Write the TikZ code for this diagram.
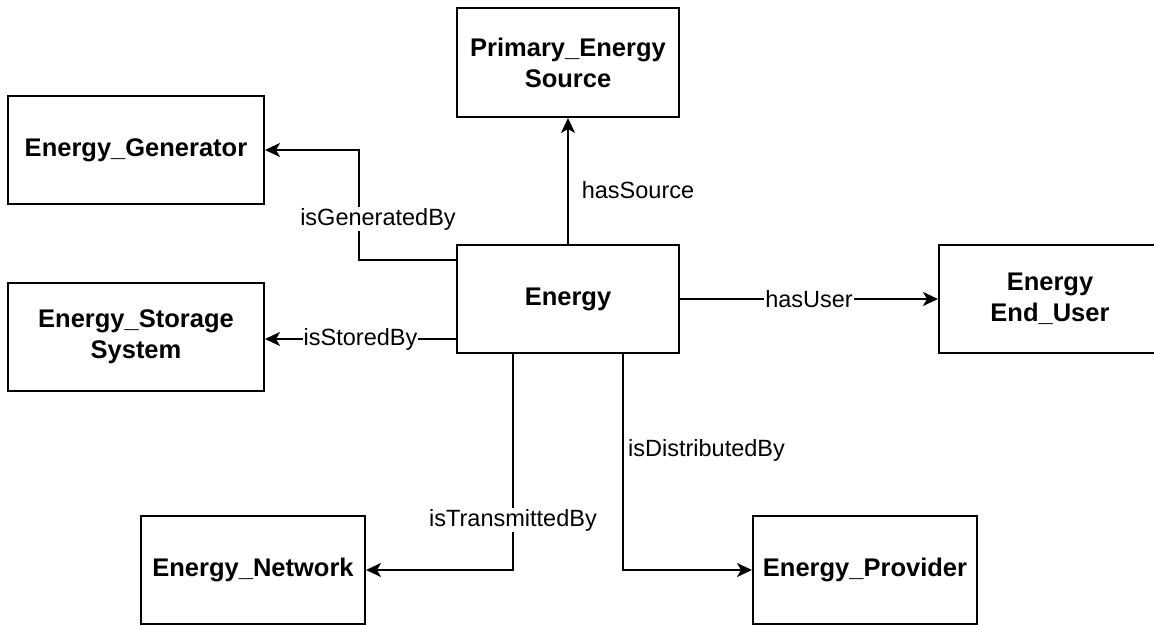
\documentclass[tikz,border=0pt]{standalone}
\usepackage{fontspec}
\setmainfont{Liberation Sans}
\usetikzlibrary{arrows.meta,calc}
\tikzset{
  entity/.style={draw=black, line width=2pt, fill=white, align=center,
    font=\fontsize{25.5}{31}\selectfont\bfseries, inner sep=0pt},
  rel/.style={draw=black, line width=2pt,
    -{Stealth[length=15pt,width=14pt,inset=4pt]}},
  rellabel/.style={font=\fontsize{23.5}{28}\selectfont, fill=white,
    inner sep=1pt, text=black},
}
\begin{document}
\begin{tikzpicture}[x=1pt,y=-1pt]
\useasboundingbox (0,0) rectangle (1154,624);
\clip (0,0) rectangle (1154,624);

% entities
\node[entity, minimum width=222pt, minimum height=109pt] (prim) at (568,62.5) {Primary\_Energy\\Source};
\node[entity, minimum width=256pt, minimum height=108pt] (gen)  at (136,150) {Energy\_Generator};
\node[entity, minimum width=222pt, minimum height=108pt] (en)   at (568,299) {Energy};
\node[entity, minimum width=256pt, minimum height=108pt] (stor) at (136,337) {Energy\_Storage\\System};
\node[entity, minimum width=222pt, minimum height=108pt] (user) at (1050,299) {Energy\\End\_User};
\node[entity, minimum width=224pt, minimum height=108pt] (net)  at (253,570) {Energy\_Network};
\node[entity, minimum width=224pt, minimum height=108pt] (prov) at (865,570) {Energy\_Provider};

% relations
\draw[rel] (en.north) -- (prim.south);
\node[rellabel, fill=none] (lsrc) at (638,190) {hasSource};

\draw[rel] ([yshift=-16pt]en.north west) -- ++(-97,0) coordinate (gbend) |- (gen.east);
\node[rellabel] (lgen) at (378,219) {isGeneratedBy};

\draw[rel] ([yshift=-40pt]en.west) -- ([yshift=-2pt]stor.east)
  node[rellabel, midway] (lsto) {isStoredBy};

\draw[rel] (en.east) -- (user.west)
  node[rellabel, midway] (lusr) {hasUser};

\draw[rel] ([xshift=-55pt]en.south) |- (net.east);
\node[rellabel] (ltr) at (513,520) {isTransmittedBy};

\draw[rel] ([xshift=55pt]en.south) |- (prov.west);
\node[rellabel, fill=none, anchor=west] (ldis) at (627,450) {isDistributedBy};
\end{tikzpicture}
\end{document}
